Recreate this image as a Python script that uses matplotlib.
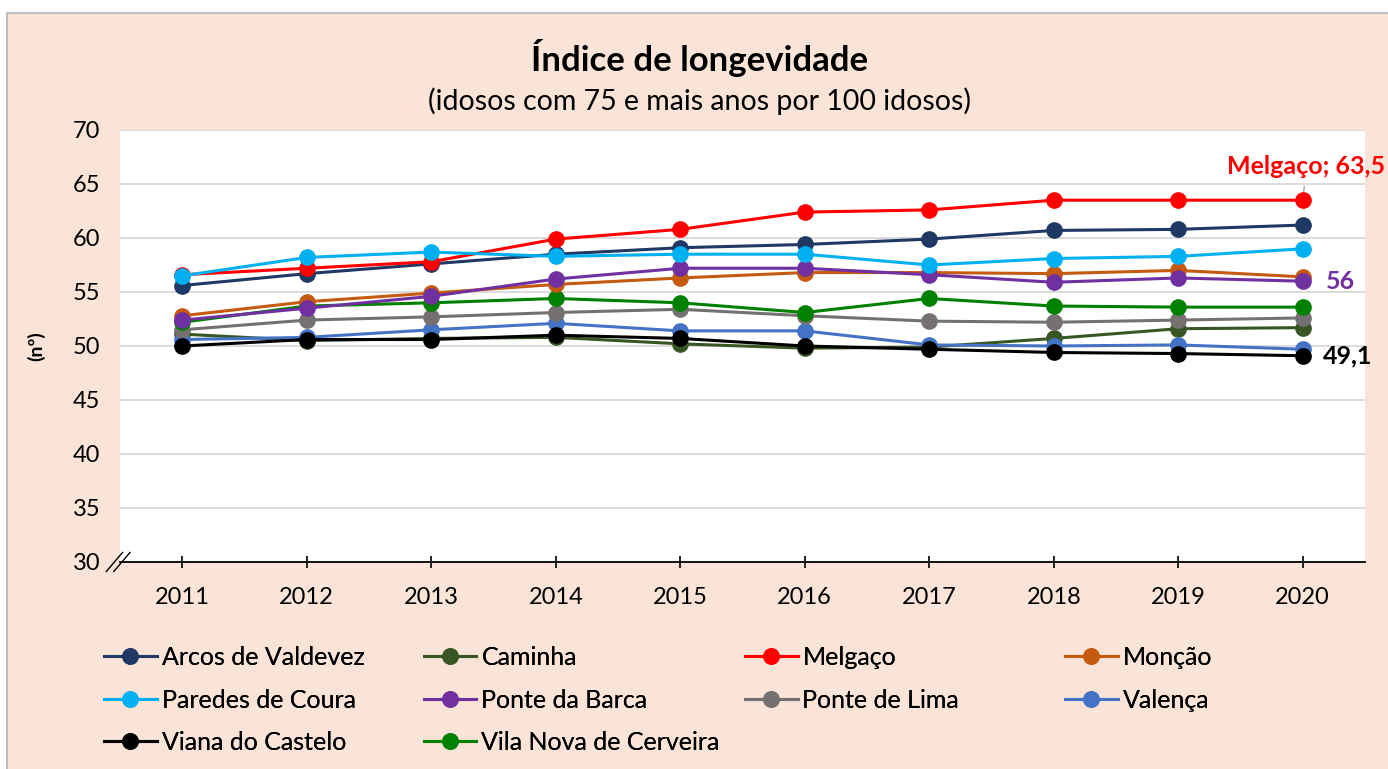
import matplotlib.pyplot as plt
from matplotlib.patches import Rectangle

plt.rcParams['font.family'] = ['Lato', 'DejaVu Sans']

years = ['2011', '2012', '2013', '2014', '2015', '2016', '2017', '2018', '2019', '2020']

arcos = [55.6, 56.7, 57.6, 58.5, 59.1, 59.4, 59.9, 60.7, 60.8, 61.2]
caminha = [51.1, 50.5, 50.7, 50.8, 50.2, 49.8, 49.9, 50.7, 51.6, 51.7]
melgaco = [56.6, 57.2, 57.8, 59.9, 60.8, 62.4, 62.6, 63.5, 63.5, 63.5]
moncao = [52.8, 54.1, 54.9, 55.7, 56.3, 56.8, 56.8, 56.7, 57.0, 56.4]
paredes = [56.5, 58.2, 58.7, 58.3, 58.5, 58.5, 57.5, 58.1, 58.3, 59.0]
barca = [52.4, 53.5, 54.6, 56.2, 57.2, 57.2, 56.6, 55.9, 56.3, 56.0]
lima = [51.5, 52.4, 52.7, 53.1, 53.4, 52.8, 52.3, 52.2, 52.4, 52.6]
valenca = [50.6, 50.8, 51.5, 52.1, 51.4, 51.4, 50.1, 50.0, 50.1, 49.7]
viana = [50.0, 50.6, 50.6, 51.0, 50.7, 50.0, 49.7, 49.4, 49.3, 49.1]
cerveira = [52.2, 53.7, 54.0, 54.4, 54.0, 53.1, 54.4, 53.7, 53.6, 53.6]

series = [
    ("Arcos de Valdevez", arcos, "#1F3864"),
    ("Caminha", caminha, "#375623"),
    ("Melgaço", melgaco, "#FF0000"),
    ("Monção", moncao, "#C55A11"),
    ("Paredes de Coura", paredes, "#00B0F0"),
    ("Ponte da Barca", barca, "#7030A0"),
    ("Ponte de Lima", lima, "#767171"),
    ("Valença", valenca, "#4472C4"),
    ("Viana do Castelo", viana, "#000000"),
    ("Vila Nova de Cerveira", cerveira, "#008000"),
]
draw_order = ["Caminha", "Valença", "Ponte de Lima", "Vila Nova de Cerveira",
              "Monção", "Ponte da Barca", "Arcos de Valdevez", "Melgaço",
              "Paredes de Coura", "Viana do Castelo"]

bg = "#FAE4D7"
fig = plt.figure(figsize=(13.88, 7.69), dpi=100)
fig.patch.set_facecolor("white")
fig.patches.append(Rectangle((7 / 1388, -0.1), 1.2, 1 - 13 / 769 + 0.1,
                             transform=fig.transFigure, facecolor=bg,
                             edgecolor="#BFBFBF", lw=1.5, zorder=-5))

ax = fig.add_axes([120 / 1388, 1 - 562 / 769, 1245 / 1388, 432 / 769])
ax.set_zorder(2)
ax.set_facecolor("white")

x = list(range(len(years)))
handles = []
for name, vals, col in series:
    h, = ax.plot(x, vals, color=col, lw=2.2, marker='o', markersize=11,
                 label=name, zorder=3 + draw_order.index(name))
    handles.append(h)

ax.set_xlim(-0.5, 9.5)
ax.set_ylim(30, 70)
ax.set_yticks(range(30, 71, 5))
ax.set_xticks(x)
ax.set_xticklabels(years)
ax.yaxis.grid(True, color="#D9D9D9", lw=1.3)
ax.set_axisbelow(True)
for s in ['left', 'right', 'top']:
    ax.spines[s].set_visible(False)
ax.spines['bottom'].set_color('black')
ax.spines['bottom'].set_linewidth(1.3)
ax.tick_params(axis='y', length=0, pad=14, labelsize=17)
ax.tick_params(axis='x', direction='inout', length=8, width=1.2, pad=14,
               labelsize=17)
ax.set_ylabel("(nº)", fontweight='bold', fontsize=14, labelpad=20)

# axis break marks
for dx in (0, 0.006):
    ax.plot([-0.011 + dx, 0.002 + dx], [-0.022, 0.022], transform=ax.transAxes,
            color='black', lw=1, clip_on=False, zorder=10)

# data labels
ax.annotate("Melgaço; 63,5", xy=(9, melgaco[-1]), xytext=(9.03, 66.6),
            color="#FF0000", fontweight='bold', fontsize=18, ha='center',
            va='center', annotation_clip=False,
            arrowprops=dict(arrowstyle='-', color='#A6A6A6', lw=1,
                            shrinkA=4, shrinkB=0))
ax.text(9.3, barca[-1], "56", color="#7030A0", fontweight='bold',
        fontsize=18, va='center', ha='center')
ax.text(9.36, viana[-1], "49,1", color="black", fontweight='bold',
        fontsize=18, va='center', ha='center')

fig.text(0.504, 0.924, "Índice de longevidade", ha='center', va='center',
         fontsize=25, fontweight='bold')
fig.text(0.504, 0.868, "(idosos com 75 e mais anos por 100 idosos)",
         ha='center', va='center', fontsize=20.5)

# legend: one legend per column so the columns sit at fixed positions
col_x = [104, 424, 745, 1065]
for c in range(4):
    idx = list(range(c, len(series), 4))
    leg = fig.legend([handles[i] for i in idx], [series[i][0] for i in idx],
                     loc='upper left',
                     bbox_to_anchor=(col_x[c] / 1388, 1 - 646 / 769),
                     frameon=False, fontsize=18, handlelength=2.1,
                     handletextpad=0.2, labelspacing=0.78, borderaxespad=0,
                     borderpad=0)
    fig.add_artist(leg)

fig.savefig("out.png", dpi=100, facecolor=fig.get_facecolor())
